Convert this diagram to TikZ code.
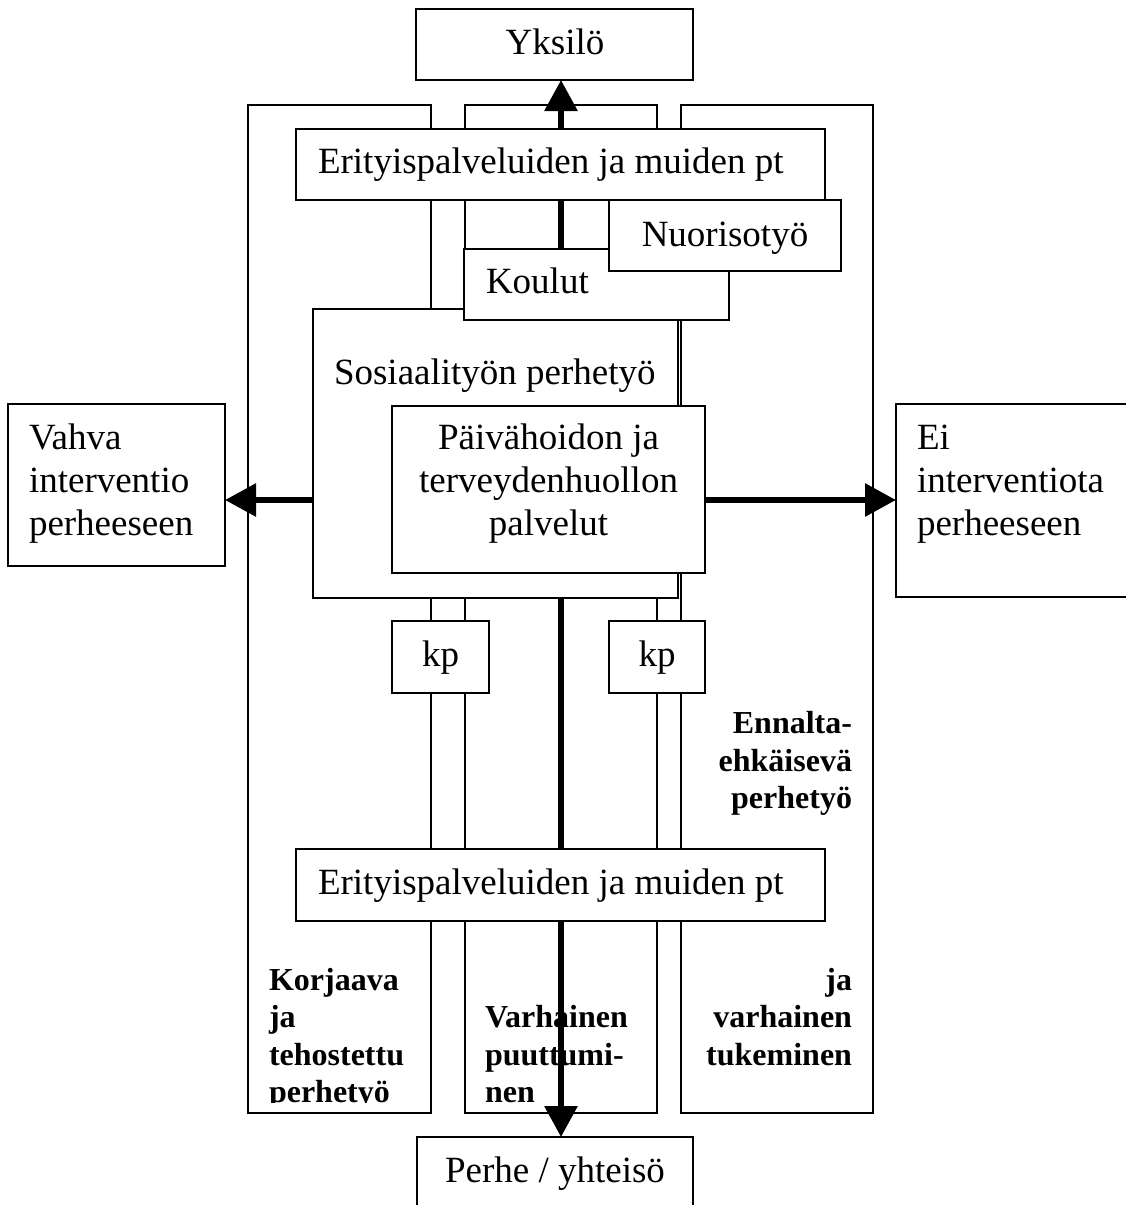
\documentclass[tikz,border=0pt]{standalone}
\usepackage{fontspec}
\setmainfont{Liberation Serif}
\usetikzlibrary{arrows.meta}
\pgfdeclarelayer{bg}
\pgfdeclarelayer{mid}
\pgfsetlayers{bg,mid,main}
\begin{document}
\begin{tikzpicture}[x=1pt,y=-1pt,
  box/.style={draw=black, line width=1.4pt, fill=white, inner sep=0pt, outer sep=0pt, anchor=north west},
  txt/.style={font=\fontsize{37}{43}\selectfont, inner sep=0pt, outer sep=0pt},
  btxt/.style={font=\fontsize{32}{37.5}\selectfont\bfseries, inner sep=0pt, outer sep=0pt},
  bigarrow/.style={line width=6pt, -{Triangle[length=31pt,width=32pt]}}]
\useasboundingbox (0,0) rectangle (1125,1205);
\begin{pgfonlayer}{bg}
  \fill[white] (0,0) rectangle (1125,1205);
  % columns
  \node[box, minimum width=183pt, minimum height=1008pt] (colL) at (248,105) {};
  \node[box, minimum width=192pt, minimum height=1008pt] (colM) at (465,105) {};
  \node[box, minimum width=192pt, minimum height=1008pt] (colR) at (681,105) {};
\end{pgfonlayer}

% boxes
\node[box, minimum width=277pt, minimum height=71pt] (yks) at (416,9) {};
\node[txt, anchor=base] (yksT) at (555,54) {Yksilö};

\node[box, minimum width=365pt, minimum height=289pt] (sos) at (313,309) {};
\node[txt, anchor=base west] (sosT) at (334,384) {Sosiaalityön perhetyö};

\node[box, minimum width=265pt, minimum height=71pt] (kou) at (464,249) {};
\node[txt, anchor=base west] (kouT) at (486,293) {Koulut};

\node[box, minimum width=232pt, minimum height=71pt] (nuo) at (609,200) {};
\node[txt, anchor=base] (nuoT) at (725,246) {Nuorisotyö};

\node[box, minimum width=529pt, minimum height=71pt] (er1) at (296,129) {};
\node[txt, anchor=base west] (er1T) at (318,173) {Erityispalveluiden ja muiden pt};

\node[box, minimum width=313pt, minimum height=167pt] (pv) at (392,406) {};
\node[txt, anchor=base] (pvT1) at (548.5,449) {Päivähoidon ja};
\node[txt, anchor=base] (pvT2) at (548.5,492) {terveydenhuollon};
\node[txt, anchor=base] (pvT3) at (548.5,535) {palvelut};

\node[box, minimum width=217pt, minimum height=162pt] (vah) at (8,404) {};
\node[txt, anchor=base west] (vahT1) at (29,449) {Vahva};
\node[txt, anchor=base west] (vahT2) at (29,492) {interventio};
\node[txt, anchor=base west] (vahT3) at (29,535) {perheeseen};

\node[box, minimum width=260pt, minimum height=193pt] (ei) at (896,404) {};
\node[txt, anchor=base west] (eiT1) at (917,449) {Ei};
\node[txt, anchor=base west] (eiT2) at (917,492) {interventiota};
\node[txt, anchor=base west] (eiT3) at (917,535) {perheeseen};

\node[box, minimum width=97pt, minimum height=72pt] (kpL) at (392,621) {};
\node[txt, anchor=base] (kpLT) at (440.5,666) {kp};
\node[box, minimum width=96pt, minimum height=72pt] (kpR) at (609,621) {};
\node[txt, anchor=base] (kpRT) at (657,666) {kp};

\node[box, minimum width=529pt, minimum height=72pt] (er2) at (296,849) {};
\node[txt, anchor=base west] (er2T) at (318,894) {Erityispalveluiden ja muiden pt};

\node[box, minimum width=276pt, minimum height=100pt] (perhe) at (417,1137) {};
\node[txt, anchor=base] (perheT) at (555,1182) {Perhe / yhteisö};

\coordinate (ax) at (561,0);
\coordinate (hy) at (0,500);

\begin{pgfonlayer}{mid}
  \begin{scope}
    \clip (0,0) rectangle (1125,1102.5);
    \node[btxt, anchor=base west] (kL1) at (269,990) {Korjaava};
    \node[btxt, anchor=base west] (kL2) at (269,1027.5) {ja};
    \node[btxt, anchor=base west] (kL3) at (269,1065) {tehostettu};
    \node[btxt, anchor=base west] (kL4) at (269,1102.5) {perhetyö};
    \node[btxt, anchor=base west] (kM1) at (485,1027.5) {Varhainen};
    \node[btxt, anchor=base west] (kM2) at (485,1065) {puuttumi-};
    \node[btxt, anchor=base west] (kM3) at (485,1102.5) {nen};
    \node[btxt, anchor=base east] (kR1) at (852,733.5) {Ennalta-};
    \node[btxt, anchor=base east] (kR2) at (852,771) {ehkäisevä};
    \node[btxt, anchor=base east] (kR3) at (852,808.5) {perhetyö};
    \node[btxt, anchor=base east] (kR4) at (852,990) {ja};
    \node[btxt, anchor=base east] (kR5) at (852,1027.5) {varhainen};
    \node[btxt, anchor=base east] (kR6) at (852,1065) {tukeminen};
  \end{scope}
  \draw[bigarrow] (ax |- kou.north) -- (ax |- yks.south);
  \draw[bigarrow] (ax |- pv.south) -- (ax |- perhe.north);
  \draw[bigarrow] (sos.west |- hy) -- (vah.east |- hy);
  \draw[bigarrow] (pv.east |- hy) -- (ei.west |- hy);
\end{pgfonlayer}
\end{tikzpicture}
\end{document}
